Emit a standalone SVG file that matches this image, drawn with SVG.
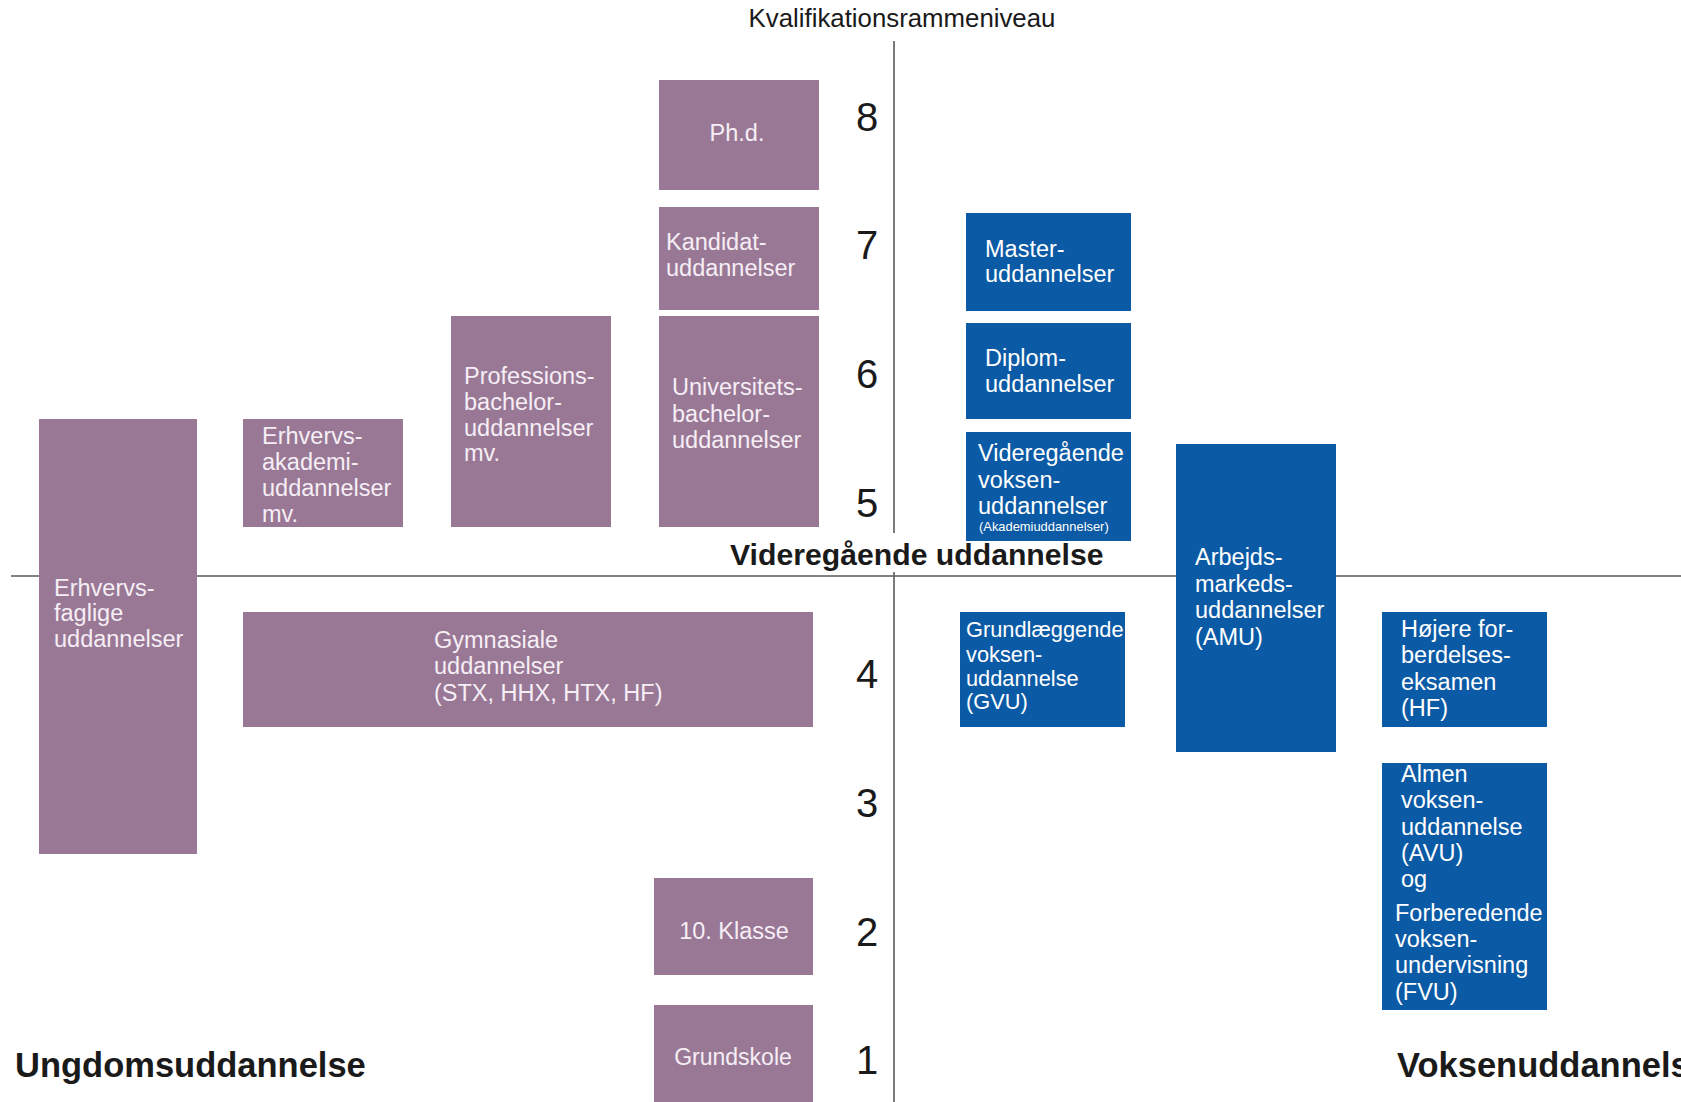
<svg xmlns="http://www.w3.org/2000/svg" width="1681" height="1102" viewBox="0 0 1681 1102">
<style>
.p{fill:#997895}
.b{fill:#0b5aa5}
.tp{font-family:"Liberation Sans",Arial,sans-serif;font-size:23.5px;fill:#f6eef5}
.tb{font-family:"Liberation Sans",Arial,sans-serif;font-size:23.5px;fill:#ffffff}
.num{font-family:"Liberation Sans",Arial,sans-serif;font-size:40px;fill:#1a1a1a;text-anchor:middle}
.hd{font-family:"Liberation Sans",Arial,sans-serif;font-weight:bold;fill:#1a1a1a}
.ax{stroke:#5a5a5a;stroke-width:1.6;fill:none}
</style>
<rect width="1681" height="1102" fill="#ffffff"/>
<g id="axes">
<line class="ax" x1="894" y1="41" x2="894" y2="533"/>
<line class="ax" x1="894" y1="572" x2="894" y2="1102"/>
<line class="ax" x1="11" y1="576" x2="1681" y2="576"/>
</g>
<text x="902" y="27" text-anchor="middle" style="font-family:'Liberation Sans',Arial,sans-serif;font-size:25.8px;fill:#1a1a1a">Kvalifikationsrammeniveau</text>
<g id="levels">
<text class="num" x="867" y="131">8</text>
<text class="num" x="867" y="259">7</text>
<text class="num" x="867" y="388">6</text>
<text class="num" x="867" y="517">5</text>
<text class="num" x="867" y="688">4</text>
<text class="num" x="867" y="817">3</text>
<text class="num" x="867" y="946">2</text>
<text class="num" x="867" y="1074">1</text>
</g>
<g id="n-phd"><rect class="p" x="659" y="80" width="160" height="110"/><text class="tp" x="737" y="141" text-anchor="middle">Ph.d.</text></g>
<g id="n-kandidat"><rect class="p" x="659" y="207" width="160" height="103"/><text class="tp"><tspan x="666" y="250">Kandidat-</tspan><tspan x="666" y="276">uddannelser</tspan></text></g>
<g id="n-universitet"><rect class="p" x="659" y="316" width="160" height="211"/><text class="tp"><tspan x="672" y="395">Universitets-</tspan><tspan x="672" y="422">bachelor-</tspan><tspan x="672" y="448">uddannelser</tspan></text></g>
<g id="n-professions"><rect class="p" x="451" y="316" width="160" height="211"/><text class="tp"><tspan x="464" y="384">Professions-</tspan><tspan x="464" y="410">bachelor-</tspan><tspan x="464" y="436">uddannelser</tspan><tspan x="464" y="461">mv.</tspan></text></g>
<g id="n-erhvervsakademi"><rect class="p" x="243" y="419" width="160" height="108"/><text class="tp"><tspan x="262" y="444">Erhvervs-</tspan><tspan x="262" y="470">akademi-</tspan><tspan x="262" y="496">uddannelser</tspan><tspan x="262" y="522">mv.</tspan></text></g>
<g id="n-erhvervsfaglige"><rect class="p" x="39" y="419" width="158" height="435"/><text class="tp"><tspan x="54" y="596">Erhvervs-</tspan><tspan x="54" y="621">faglige</tspan><tspan x="54" y="647">uddannelser</tspan></text></g>
<g id="n-gymnasiale"><rect class="p" x="243" y="612" width="570" height="115"/><text class="tp"><tspan x="434" y="648">Gymnasiale</tspan><tspan x="434" y="674">uddannelser</tspan><tspan x="434" y="701">(STX, HHX, HTX, HF)</tspan></text></g>
<g id="n-10klasse"><rect class="p" x="654" y="878" width="159" height="97"/><text class="tp" x="734" y="939" text-anchor="middle" style="font-size:23.5px">10. Klasse</text></g>
<g id="n-grundskole"><rect class="p" x="654" y="1005" width="159" height="97"/><text class="tp" x="733" y="1065" text-anchor="middle" style="font-size:23px">Grundskole</text></g>
<g id="n-master"><rect class="b" x="966" y="213" width="165" height="98"/><text class="tb"><tspan x="985" y="257">Master-</tspan><tspan x="985" y="282">uddannelser</tspan></text></g>
<g id="n-diplom"><rect class="b" x="966" y="323" width="165" height="96"/><text class="tb"><tspan x="985" y="366">Diplom-</tspan><tspan x="985" y="392">uddannelser</tspan></text></g>
<g id="n-vvu"><rect class="b" x="966" y="432" width="165" height="109"/><text class="tb"><tspan x="978" y="461">Videregående</tspan><tspan x="978" y="488">voksen-</tspan><tspan x="978" y="514">uddannelser</tspan></text><text class="tb" x="979" y="531" style="font-size:12.9px">(Akademiuddannelser)</text></g>
<g id="n-gvu"><rect class="b" x="960" y="612" width="165" height="115"/><text class="tb" style="font-size:21.8px"><tspan x="966" y="637">Grundlæggende</tspan><tspan x="966" y="662">voksen-</tspan><tspan x="966" y="686">uddannelse</tspan><tspan x="966" y="709">(GVU)</tspan></text></g>
<g id="n-amu"><rect class="b" x="1176" y="444" width="160" height="308"/><text class="tb"><tspan x="1195" y="565">Arbejds-</tspan><tspan x="1195" y="592">markeds-</tspan><tspan x="1195" y="618">uddannelser</tspan><tspan x="1195" y="645">(AMU)</tspan></text></g>
<g id="n-hf"><rect class="b" x="1382" y="612" width="165" height="115"/><text class="tb"><tspan x="1401" y="637">Højere for-</tspan><tspan x="1401" y="663">berdelses-</tspan><tspan x="1401" y="690">eksamen</tspan><tspan x="1401" y="716">(HF)</tspan></text></g>
<g id="n-avu-fvu"><rect class="b" x="1382" y="763" width="165" height="247"/><text class="tb"><tspan x="1401" y="782">Almen</tspan><tspan x="1401" y="808">voksen-</tspan><tspan x="1401" y="835">uddannelse</tspan><tspan x="1401" y="861">(AVU)</tspan><tspan x="1401" y="887">og</tspan><tspan x="1395" y="921">Forberedende</tspan><tspan x="1395" y="947">voksen-</tspan><tspan x="1395" y="973">undervisning</tspan><tspan x="1395" y="1000">(FVU)</tspan></text></g>
<g id="connectors"></g>
<text class="hd" x="730" y="565" style="font-size:30.2px">Videregående uddannelse</text>
<text class="hd" x="15" y="1077" style="font-size:34.5px">Ungdomsuddannelse</text>
<text class="hd" x="1397" y="1077" style="font-size:34.5px">Voksenuddannelse</text>
</svg>
